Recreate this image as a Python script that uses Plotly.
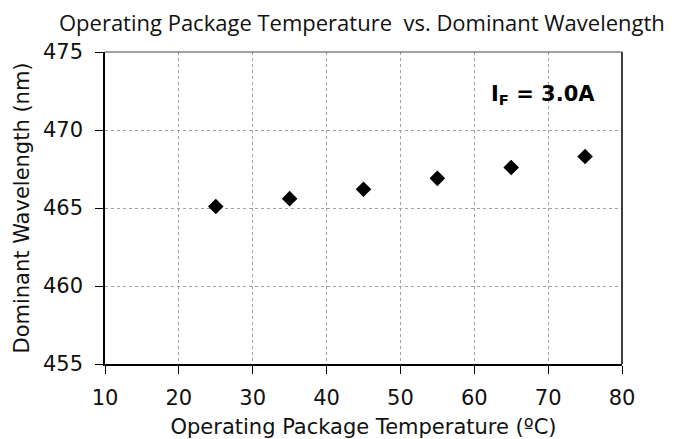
import plotly.graph_objects as go

temperature = [25, 35, 45, 55, 65, 75]
wavelength = [465.1, 465.6, 466.2, 466.9, 467.6, 468.3]
x_ticks = [10, 20, 30, 40, 50, 60, 70, 80]
y_ticks = [455, 460, 465, 470, 475]

fig = go.Figure()
fig.add_trace(go.Scatter(
    x=temperature, y=wavelength, mode="markers",
    marker=dict(symbol="diamond", size=12, color="black"),
    showlegend=False,
))

FONT = "Verdana, DejaVu Sans"
tick_font = dict(family=FONT, size=21, color="#111")
title_font = dict(family=FONT, size=21, color="#111")
fig.update_layout(
    width=678, height=431,
    margin=dict(l=97, r=64, t=44, b=75),
    paper_bgcolor="white", plot_bgcolor="white",
    title=dict(text="Operating Package Temperature  vs. Dominant Wavelength",
               x=0.522, xref="container", xanchor="center",
               y=1 - 15 / 431, yref="container", yanchor="middle",
               font=dict(family="Open Sans", size=22, color="#111")),
    xaxis=dict(range=[10, 80], tickvals=x_ticks, showgrid=True,
               gridcolor="#a0a0a0", griddash="dot", gridwidth=1,
               showline=True, linecolor="black", linewidth=1.5, mirror=False,
               ticks="outside", ticklen=8, tickcolor="black",
               ticklabelstandoff=6, automargin=False,
               tickfont=tick_font, zeroline=False,
               title=dict(text="Operating Package Temperature (ºC)", font=title_font, standoff=12)),
    yaxis=dict(range=[455, 475], tickvals=y_ticks, showgrid=True,
               gridcolor="#a0a0a0", griddash="dot", gridwidth=1,
               showline=True, linecolor="black", linewidth=1.5,
               ticks="outside", ticklen=8, tickcolor="black",
               ticklabelstandoff=8, automargin=False,
               tickfont=tick_font, zeroline=False,
               title=dict(text="Dominant Wavelength (nm)", font=title_font, standoff=8)),
    annotations=[dict(text="<b>I<sub>F</sub> = 3.0A</b>", x=0.952, y=0.862,
                      xref="paper", yref="paper", xanchor="right", yanchor="middle",
                      showarrow=False,
                      font=dict(family=FONT, size=21, color="black"))],
    shapes=[dict(type="line", xref="paper", yref="paper", x0=1, x1=1, y0=0, y1=1,
                 line=dict(color="black", width=1.5)),
            dict(type="line", xref="paper", yref="paper", x0=0, x1=1, y0=1, y1=1,
                 line=dict(color="#444", width=1))],
)
fig.write_html("out.html")
